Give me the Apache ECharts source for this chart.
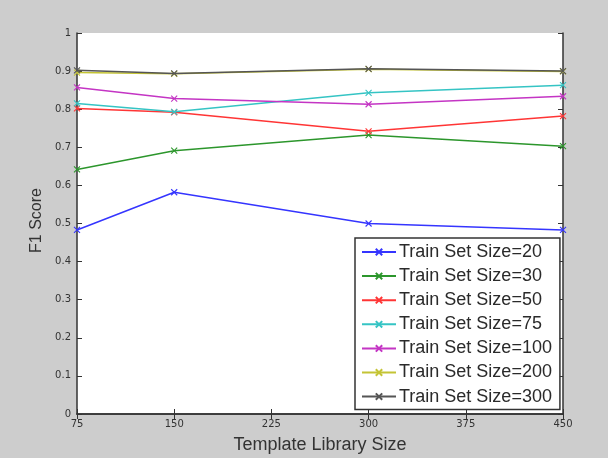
<!DOCTYPE html>
<html>
<head>
<meta charset="utf-8">
<script src="https://cdn.jsdelivr.net/npm/echarts@6/dist/echarts.min.js"></script>
<style>
html,body{margin:0;padding:0;background:#cdcdcd;}
#chart{width:608px;height:458px;}
</style>
</head>
<body>
<div id="chart"></div>
<script>
const templateSizes = [75, 150, 300, 450];
const xTicks = [75, 150, 225, 300, 375, 450];
const seriesNames = ['Train Set Size=20','Train Set Size=30','Train Set Size=50','Train Set Size=75','Train Set Size=100','Train Set Size=200','Train Set Size=300'];
const size20  = [0.483, 0.582, 0.500, 0.483];
const size30  = [0.642, 0.691, 0.732, 0.703];
const size50  = [0.802, 0.792, 0.742, 0.782];
const size75  = [0.815, 0.793, 0.843, 0.863];
const size100 = [0.857, 0.828, 0.813, 0.834];
const size200 = [0.896, 0.893, 0.905, 0.899];
const size300 = [0.902, 0.894, 0.906, 0.900];
const allValues = [size20, size30, size50, size75, size100, size200, size300];
const colors = ['#3535ff', '#2c962c', '#ff3535', '#35c4c4', '#c435c4', '#c4c435', '#555555'];

const xMark = 'path://M0,0L10,10M10,0L0,10';
const font = 'Liberation Sans, Arial, sans-serif';
const tickFont = 'DejaVu Sans, sans-serif';

const series = allValues.map((vals, i) => ({
  name: seriesNames[i],
  type: 'line',
  xAxisIndex: 0,
  yAxisIndex: 0,
  data: templateSizes.map((x, j) => [x, vals[j]]),
  symbol: xMark,
  symbolSize: 6,
  showSymbol: true,
  lineStyle: { color: colors[i], width: 1.5 },
  itemStyle: { color: colors[i], borderColor: colors[i], borderWidth: 1.1 },
  emphasis: { disabled: true },
  animation: false,
  z: 2 + i
}));

const axisLineStyle = { lineStyle: { color: '#333', width: 1.5 } };
const tickStyle = { inside: true, length: 5, lineStyle: { color: '#333', width: 1 } };

const option = {
  backgroundColor: '#cdcdcd',
  animation: false,
  grid: { left: 77, right: 45, top: 33, bottom: 44, backgroundColor: '#ffffff', show: true, borderWidth: 0, outerBoundsMode: 'none', containLabel: false },
  legend: {
    orient: 'vertical',
    left: 355, top: 238,
    width: 204,
    padding: [5, 8, 4, 6],
    itemGap: 6.1,
    itemWidth: 34, itemHeight: 8,
    backgroundColor: '#ffffff',
    borderColor: '#333', borderWidth: 1.5,
    textStyle: { fontFamily: font, fontSize: 18, color: '#2a2a2a', padding: [0,0,0,-2] },
    data: seriesNames
  },
  xAxis: [
    {
      type: 'value', min: 75, max: 450, interval: 75, position: 'bottom',
      name: 'Template Library Size', nameLocation: 'middle', nameGap: 22,
      nameTextStyle: { fontFamily: font, fontSize: 18, color: '#333' },
      axisLine: axisLineStyle, axisTick: tickStyle,
      axisLabel: { fontFamily: tickFont, fontSize: 10, color: '#333', margin: 5 },
      splitLine: { show: false }
    },
    {
      type: 'value', min: 75, max: 450, interval: 75, position: 'top',
      axisLine: axisLineStyle, axisTick: tickStyle,
      axisLabel: { show: false }, splitLine: { show: false }
    }
  ],
  yAxis: [
    {
      type: 'value', min: 0, max: 1, interval: 0.1, position: 'left',
      name: 'F1 Score', nameLocation: 'middle', nameGap: 27, nameRotate: 90,
      nameTextStyle: { fontFamily: font, fontSize: 16, color: '#333', padding: [0, 0, 0, 6] },
      axisLine: axisLineStyle, axisTick: tickStyle,
      axisLabel: { fontFamily: tickFont, fontSize: 10, color: '#333', margin: 6,
        formatter: v => String(Math.round(v * 10) / 10) },
      splitLine: { show: false }
    },
    {
      type: 'value', min: 0, max: 1, interval: 0.1, position: 'right',
      axisLine: axisLineStyle, axisTick: tickStyle,
      axisLabel: { show: false }, splitLine: { show: false }
    }
  ],
  series: series
};

const chart = echarts.init(document.getElementById('chart'), null, { renderer: 'canvas' });
chart.setOption(option);
</script>
</body>
</html>
